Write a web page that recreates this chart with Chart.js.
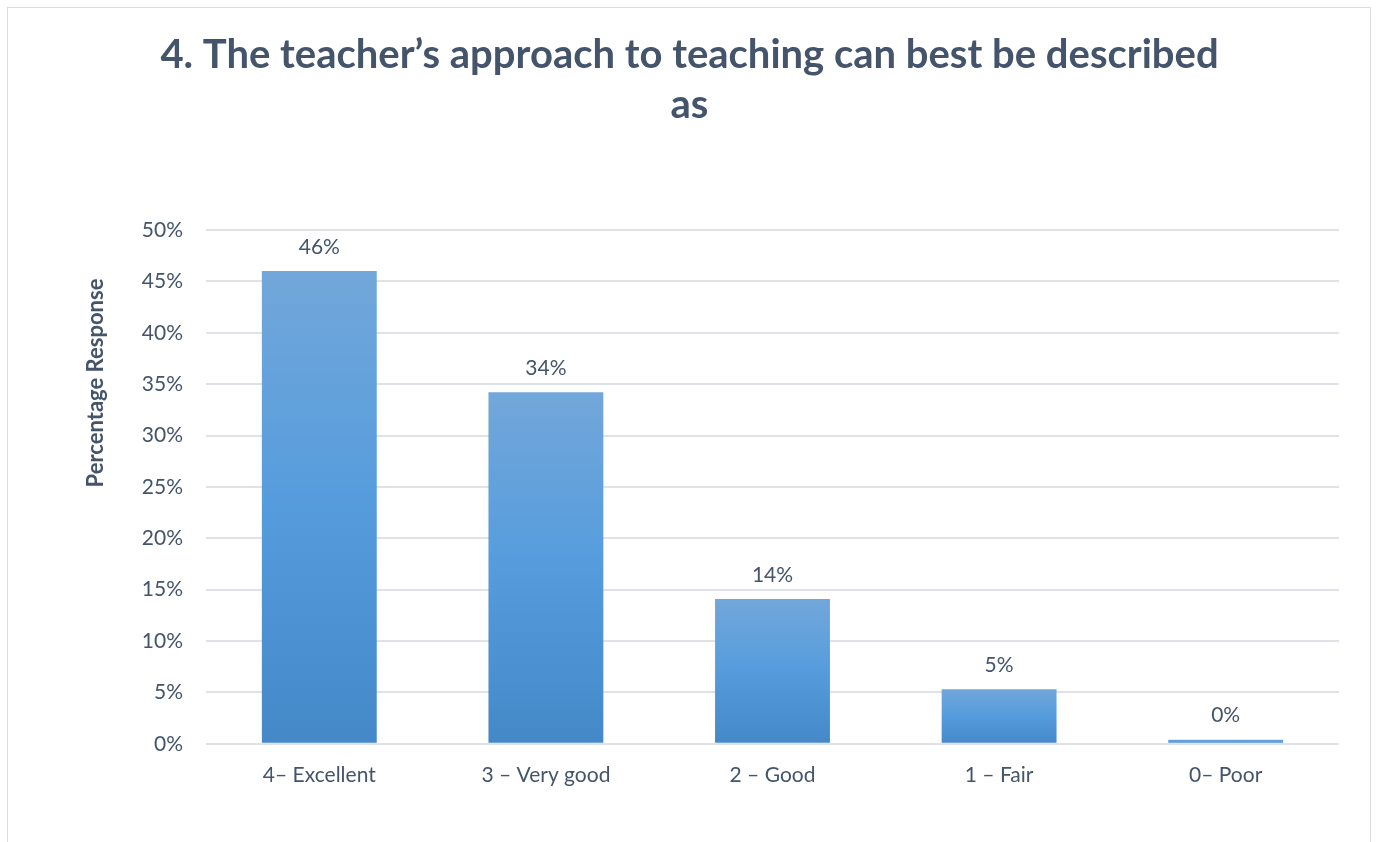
<!DOCTYPE html>
<html>
<head>
<meta charset="utf-8">
<script src="https://cdn.jsdelivr.net/npm/chart.js@4/dist/chart.umd.min.js"></script>
<style>
  html, body { margin: 0; padding: 0; background: #fff; overflow: hidden; }
  #frame { position: absolute; left: 7px; top: 7px; width: 1364px; height: 900px; border: 1px solid #d9dde3; box-sizing: border-box; }
  #wrap { position: absolute; left: 0; top: 0; width: 1376px; height: 842px; }
</style>
</head>
<body>
<div id="frame"></div>
<div id="wrap"><canvas id="c" width="1376" height="842"></canvas></div>
<script>
const titleLines = ["4. The teacher\u2019s approach to teaching can best be described", "as"];
const categories = ["4\u2013 Excellent", "3 \u2013 Very good", "2 \u2013 Good", "1 \u2013 Fair", "0\u2013 Poor"];
const values = [46.0, 34.2, 14.1, 5.3, 0.4];
const valueLabels = ["46%", "34%", "14%", "5%", "0%"];
const yAxisTitle = "Percentage Response";
const yTicks = [0, 5, 10, 15, 20, 25, 30, 35, 40, 45, 50];

const TEXT = '#44546a';
const FONT = 'Lato, "Open Sans", sans-serif';

const valueLabelPlugin = {
  id: 'valueLabels',
  afterDatasetsDraw(chart) {
    const ctx = chart.ctx;
    const meta = chart.getDatasetMeta(0);
    ctx.save();
    ctx.fillStyle = TEXT;
    ctx.font = '21px ' + FONT;
    ctx.textAlign = 'center';
    ctx.textBaseline = 'middle';
    meta.data.forEach((bar, i) => {
      ctx.fillText(valueLabels[i], bar.x, bar.y - 24);
    });
    ctx.restore();
  }
};

const yTitlePlugin = {
  id: 'yTitle',
  afterDraw(chart) {
    const ctx = chart.ctx;
    ctx.save();
    ctx.translate(96, 383);
    ctx.rotate(-Math.PI / 2);
    ctx.fillStyle = TEXT;
    ctx.font = 'bold 22px ' + FONT;
    ctx.textAlign = 'center';
    ctx.textBaseline = 'middle';
    ctx.fillText(yAxisTitle, 0, 0);
    ctx.restore();
  }
};

function barGradient(context) {
  const chart = context.chart;
  const y = chart.scales.y;
  if (!y || !chart.chartArea) return '#559cdd';
  const top = y.getPixelForValue(context.raw);
  const base = y.getPixelForValue(0);
  if (!isFinite(top) || !isFinite(base) || Math.abs(base - top) < 1) return '#6aa3db';
  const g = chart.ctx.createLinearGradient(0, top, 0, base);
  g.addColorStop(0, '#72a7da');
  g.addColorStop(0.5, '#559cdd');
  g.addColorStop(1, '#4488c7');
  return g;
}

new Chart(document.getElementById('c'), {
  type: 'bar',
  data: {
    labels: categories,
    datasets: [{
      data: values,
      backgroundColor: barGradient,
      borderWidth: 0,
      barPercentage: 0.507,
      categoryPercentage: 1.0
    }]
  },
  options: {
    responsive: false,
    animation: false,
    devicePixelRatio: 1,
    layout: { padding: { left: 40, right: 37, top: 0, bottom: 35 } },
    plugins: {
      legend: { display: false },
      tooltip: { enabled: false },
      title: {
        display: true,
        text: titleLines,
        color: TEXT,
        font: { family: FONT, size: 40, weight: 'bold', lineHeight: 1.25 },
        padding: { top: 30, bottom: 100 }
      }
    },
    scales: {
      x: {
        grid: { display: false, drawTicks: false },
        border: { display: false },
        ticks: { color: TEXT, font: { family: FONT, size: 21 }, padding: 19, maxRotation: 0 }
      },
      y: {
        min: 0,
        max: 50,
        afterFit(scale) { scale.width = 166; },
        afterBuildTicks(scale) { scale.ticks = yTicks.map(v => ({ value: v })); },
        grid: { color: '#dfe3e8', lineWidth: 2, drawTicks: false },
        border: { display: false },
        ticks: {
          color: TEXT,
          font: { family: FONT, size: 21 },
          padding: 23,
          callback: v => v + '%'
        }
      }
    }
  },
  plugins: [valueLabelPlugin, yTitlePlugin]
});
</script>
</body>
</html>
